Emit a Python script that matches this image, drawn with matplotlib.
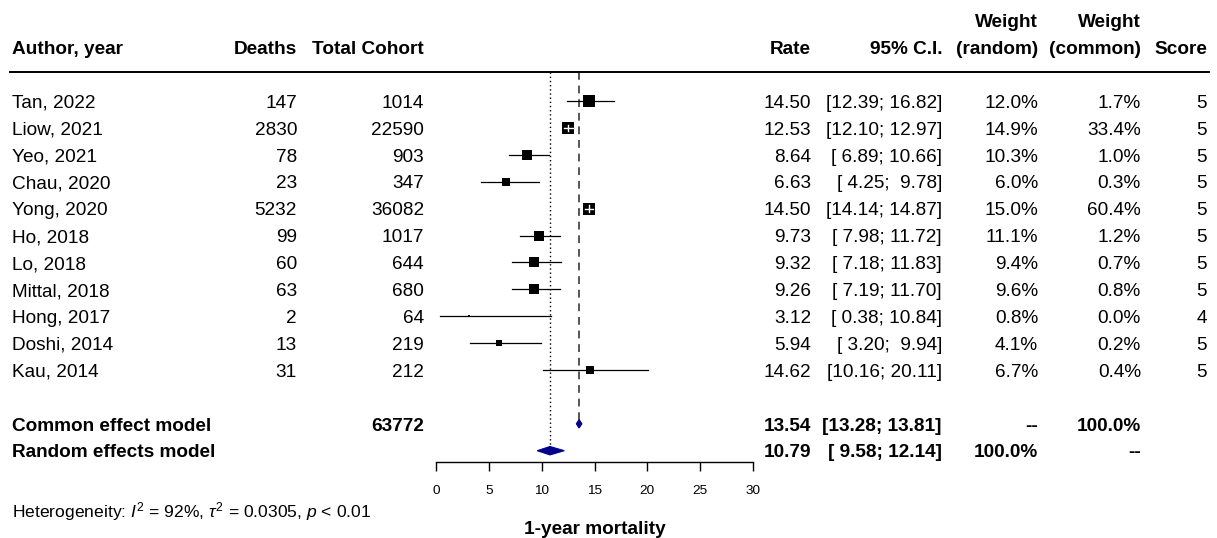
import matplotlib
matplotlib.use("Agg")
import matplotlib.pyplot as plt
import matplotlib.transforms as mtransforms
from matplotlib.patches import Polygon
import numpy as np

plt.rcParams['font.family'] = ['Liberation Sans', 'DejaVu Sans']
plt.rcParams['mathtext.fontset'] = 'custom'
plt.rcParams['mathtext.rm'] = 'Liberation Sans'
plt.rcParams['mathtext.it'] = 'Liberation Sans:italic'
plt.rcParams['mathtext.bf'] = 'Liberation Sans:bold'

#####  data  #####
authors = ["Tan, 2022", "Liow, 2021", "Yeo, 2021", "Chau, 2020", "Yong, 2020", "Ho, 2018",
           "Lo, 2018", "Mittal, 2018", "Hong, 2017", "Doshi, 2014", "Kau, 2014"]
deaths = [147, 2830, 78, 23, 5232, 99, 60, 63, 2, 13, 31]
totals = [1014, 22590, 903, 347, 36082, 1017, 644, 680, 64, 219, 212]
rate = [14.50, 12.53, 8.64, 6.63, 14.50, 9.73, 9.32, 9.26, 3.12, 5.94, 14.62]
ci_lo = [12.39, 12.10, 6.89, 4.25, 14.14, 7.98, 7.18, 7.19, 0.38, 3.20, 10.16]
ci_hi = [16.82, 12.97, 10.66, 9.78, 14.87, 11.72, 11.83, 11.70, 10.84, 9.94, 20.11]
w_random = [12.0, 14.9, 10.3, 6.0, 15.0, 11.1, 9.4, 9.6, 0.8, 4.1, 6.7]
w_common = [1.7, 33.4, 1.0, 0.3, 60.4, 1.2, 0.7, 0.8, 0.0, 0.2, 0.4]
score = [5, 5, 5, 5, 5, 5, 5, 5, 4, 5, 5]

common_total = 63772
common_est, common_lo, common_hi = 13.54, 13.28, 13.81
random_est, random_lo, random_hi = 10.79, 9.58, 12.14

#####  layout (pixels)  #####
W, H = 1217, 538
row0, drow = 101, 26.9          # pixel y of first row and spacing
ax_left, ax_right = 436, 753
ax_top, ax_bot = 72, 462
xmax = 30
px_per_unit = (ax_right - ax_left) / xmax

fig = plt.figure(figsize=(W / 100, H / 100), dpi=100)
ax = fig.add_axes([ax_left / W, 1 - ax_bot / H, (ax_right - ax_left) / W, (ax_bot - ax_top) / H])
ax.set_xlim(0, xmax)
ax.set_ylim((ax_bot - row0) / drow, (ax_top - row0) / drow)
for s in ['top', 'right', 'left']:
    ax.spines[s].set_visible(False)
ax.spines['bottom'].set_linewidth(1.0)
ax.set_yticks([])
ax.set_xticks(np.arange(0, 31, 5))
ax.tick_params(axis='x', direction='out', length=6.5, width=1.0, pad=10, labelsize=9.7)
ax.set_xlabel("1-year mortality", fontsize=13.7, fontweight='bold', labelpad=17)
ax.patch.set_visible(False)

n = len(authors)
rows = np.arange(n)
r_common, r_random = n + 1, n + 2

# reference lines
ax.plot([random_est, random_est], [ax.get_ylim()[1], r_random], color='black', ls=(0, (1, 2)), lw=1.0, zorder=1)
ax.plot([common_est, common_est], [ax.get_ylim()[1], r_common], color='#555555', ls=(0, (4, 3)), lw=1.4, zorder=1)

# studies
for i in range(n):
    ax.plot([ci_lo[i], ci_hi[i]], [rows[i], rows[i]], color='black', lw=0.9, zorder=2)
    side_px = 3.3 * np.sqrt(w_random[i])
    ax.plot(rate[i], rows[i], marker='s', color='black', markersize=side_px * 0.72, mew=0, zorder=3)
    half = side_px / 2 / px_per_unit
    if rate[i] - ci_lo[i] < half and ci_hi[i] - rate[i] < half:
        ax.plot([ci_lo[i], ci_hi[i]], [rows[i], rows[i]], color='white', lw=1.0, zorder=4)
        vh = side_px * 0.25 / drow
        ax.plot([rate[i], rate[i]], [rows[i] - vh, rows[i] + vh], color='white', lw=1.0, zorder=4)

# diamonds
dh = 4.2 / drow
for est, lo, hi, r in [(common_est, common_lo, common_hi, r_common),
                       (random_est, random_lo, random_hi, r_random)]:
    ax.add_patch(Polygon([[lo, r], [est, r - dh], [hi, r], [est, r + dh]], closed=True,
                         facecolor='#00008B', edgecolor='#00008B', lw=0.8, zorder=5))

#####  table text  #####
tr = mtransforms.blended_transform_factory(fig.transFigure, ax.transData)
fs = 13.7
boff = 0.25  # baseline offset in rows


def put(xpx, r, s, ha='right', bold=False):
    ax.text(xpx / W, r + boff, s, transform=tr, ha=ha, va='baseline', fontsize=fs,
            fontweight='bold' if bold else 'normal', clip_on=False)


cols = {'deaths': 297, 'total': 424, 'rate': 811, 'ci': 942, 'wr': 1038, 'wc': 1141, 'score': 1207}
hdr = -2.0
put(12, hdr, "Author, year", ha='left', bold=True)
put(cols['deaths'], hdr, "Deaths", bold=True)
put(cols['total'], hdr, "Total Cohort", bold=True)
put(cols['rate'], hdr, "Rate", bold=True)
put(cols['ci'], hdr, "95% C.I.", bold=True)
put(cols['wr'], hdr - 1, "Weight", bold=True)
put(cols['wr'], hdr, "(random)", bold=True)
put(cols['wc'], hdr - 1, "Weight", bold=True)
put(cols['wc'], hdr, "(common)", bold=True)
put(cols['score'], hdr, "Score", bold=True)

for i in range(n):
    put(12, rows[i], authors[i], ha='left')
    put(cols['deaths'], rows[i], str(deaths[i]))
    put(cols['total'], rows[i], str(totals[i]))
    put(cols['rate'], rows[i], f"{rate[i]:.2f}")
    put(cols['ci'], rows[i], f"[{ci_lo[i]:5.2f}; {ci_hi[i]:5.2f}]")
    put(cols['wr'], rows[i], f"{w_random[i]:.1f}%")
    put(cols['wc'], rows[i], f"{w_common[i]:.1f}%")
    put(cols['score'], rows[i], str(score[i]))

put(12, r_common, "Common effect model", ha='left', bold=True)
put(cols['total'], r_common, str(common_total), bold=True)
put(cols['rate'], r_common, f"{common_est:.2f}", bold=True)
put(cols['ci'], r_common, f"[{common_lo:5.2f}; {common_hi:5.2f}]", bold=True)
put(cols['wr'], r_common, "--", bold=True)
put(cols['wc'], r_common, "100.0%", bold=True)

put(12, r_random, "Random effects model", ha='left', bold=True)
put(cols['rate'], r_random, f"{random_est:.2f}", bold=True)
put(cols['ci'], r_random, f"[{random_lo:5.2f}; {random_hi:5.2f}]", bold=True)
put(cols['wr'], r_random, "100.0%", bold=True)
put(cols['wc'], r_random, "--", bold=True)

# header rule
ax.plot([10 / W, 1209 / W], [(ax_top - row0) / drow] * 2, transform=tr, color='black', lw=1.4, clip_on=False)

# heterogeneity
ax.text(12 / W, (512 - row0) / drow, r"Heterogeneity: $I^2$ = 92%, $\tau^2$ = 0.0305, $p$ < 0.01",
        transform=tr, ha='left', va='center', fontsize=12.6, clip_on=False)

fig.savefig("out.png", dpi=100)
